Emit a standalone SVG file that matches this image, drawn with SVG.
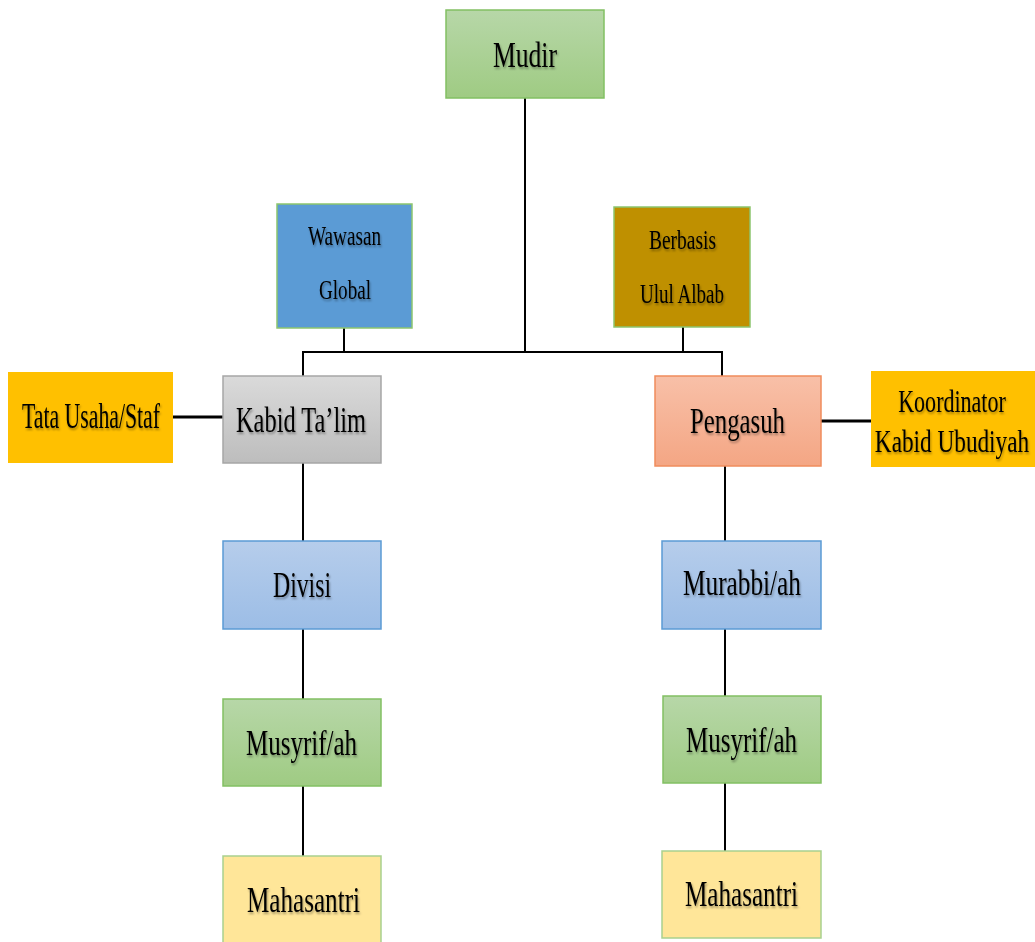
<svg xmlns="http://www.w3.org/2000/svg" width="1035" height="942" viewBox="0 0 1035 942">
<defs>
<linearGradient id="gGreen" x1="0" y1="0" x2="0" y2="1"><stop offset="0" stop-color="#b7d7a8"/><stop offset="1" stop-color="#9fcb83"/></linearGradient>
<linearGradient id="gGray" x1="0" y1="0" x2="0" y2="1"><stop offset="0" stop-color="#dadada"/><stop offset="1" stop-color="#bdbdbd"/></linearGradient>
<linearGradient id="gBlue" x1="0" y1="0" x2="0" y2="1"><stop offset="0" stop-color="#b6cdeb"/><stop offset="1" stop-color="#9cbde6"/></linearGradient>
<linearGradient id="gOrange" x1="0" y1="0" x2="0" y2="1"><stop offset="0" stop-color="#f8c0a8"/><stop offset="1" stop-color="#f4a684"/></linearGradient>
<filter id="sh" x="-3%" y="-10%" width="107%" height="130%"><feDropShadow dx="1" dy="2" stdDeviation="1.2" flood-color="#000" flood-opacity="0.35"/></filter>
</defs>
<style>
text{font-family:"Liberation Serif","Times New Roman",serif;fill:#000;text-anchor:middle;filter:url(#sh)}
.big{font-size:36px}
.mid{font-size:31px}
.sm{font-size:27px}
.ln{stroke:#000;stroke-width:2;fill:none}
.lnt{stroke:#000;stroke-width:3;fill:none}
</style>
<rect width="1035" height="942" fill="#fff"/>
<g id="connectors">
<line class="ln" x1="525" y1="98" x2="525" y2="352"/>
<line class="ln" x1="302" y1="352" x2="723" y2="352"/>
<line class="ln" x1="344" y1="328" x2="344" y2="352"/>
<line class="ln" x1="683" y1="327" x2="683" y2="352"/>
<line class="ln" x1="303" y1="351" x2="303" y2="376"/>
<line class="ln" x1="722" y1="351" x2="722" y2="376"/>
<line class="lnt" x1="173" y1="417" x2="223" y2="417"/>
<line class="lnt" x1="821" y1="421" x2="871" y2="421"/>
<line class="ln" x1="303" y1="463" x2="303" y2="541"/>
<line class="ln" x1="303" y1="629" x2="303" y2="699"/>
<line class="ln" x1="303" y1="786" x2="303" y2="856"/>
<line class="ln" x1="725" y1="466" x2="725" y2="541"/>
<line class="ln" x1="725" y1="629" x2="725" y2="696"/>
<line class="ln" x1="725" y1="783" x2="725" y2="851"/>
</g>
<g id="mudir"><rect x="446" y="10" width="158" height="88" fill="url(#gGreen)" stroke="#82c063" stroke-width="1.5"/><text class="big" x="525" y="67" textLength="64" lengthAdjust="spacingAndGlyphs">Mudir</text></g>
<g id="wawasan"><rect x="277" y="204" width="135" height="124" fill="#5b9bd5" stroke="#8cc56e" stroke-width="1.5"/><text class="sm" x="344.5" y="245" textLength="73" lengthAdjust="spacingAndGlyphs">Wawasan</text><text class="sm" x="345" y="299" textLength="52" lengthAdjust="spacingAndGlyphs">Global</text></g>
<g id="berbasis"><rect x="614" y="207" width="136" height="120" fill="#bf9000" stroke="#8cc56e" stroke-width="1.5"/><text class="sm" x="682.5" y="249" textLength="67" lengthAdjust="spacingAndGlyphs">Berbasis</text><text class="sm" x="682" y="303" textLength="84" lengthAdjust="spacingAndGlyphs">Ulul Albab</text></g>
<g id="tata"><rect x="8" y="372" width="165" height="91" fill="#ffc000"/><text class="big" x="91" y="428" textLength="138" lengthAdjust="spacingAndGlyphs">Tata Usaha/Staf</text></g>
<g id="kabid"><rect x="223" y="376" width="158" height="87" fill="url(#gGray)" stroke="#a6a6a6" stroke-width="1.5"/><text class="big" x="301" y="432" textLength="130" lengthAdjust="spacingAndGlyphs">Kabid Ta’lim</text></g>
<g id="pengasuh"><rect x="655" y="376" width="166" height="90" fill="url(#gOrange)" stroke="#f08c5c" stroke-width="1.5"/><text class="big" x="737.5" y="433" textLength="95" lengthAdjust="spacingAndGlyphs">Pengasuh</text></g>
<g id="koordinator"><rect x="871" y="371" width="164" height="96" fill="#ffc000"/><text class="mid" transform="translate(952 412) scale(0.71 1)" x="0" y="0">Koordinator</text><text class="mid" transform="translate(952 452) scale(0.75 1)" x="0" y="0">Kabid Ubudiyah</text></g>
<g id="divisi"><rect x="223" y="541" width="158" height="88" fill="url(#gBlue)" stroke="#5b9bd5" stroke-width="1.5"/><text class="big" x="302" y="597" textLength="58" lengthAdjust="spacingAndGlyphs">Divisi</text></g>
<g id="musyrif-l"><rect x="223" y="699" width="158" height="87" fill="url(#gGreen)" stroke="#82c063" stroke-width="1.5"/><text class="big" x="301.5" y="755" textLength="111" lengthAdjust="spacingAndGlyphs">Musyrif/ah</text></g>
<g id="mahasantri-l"><rect x="223" y="856" width="158" height="90" fill="#ffe699" stroke="#a9d18e" stroke-width="1.5"/><text class="big" x="303.5" y="912" textLength="113" lengthAdjust="spacingAndGlyphs">Mahasantri</text></g>
<g id="murabbi"><rect x="662" y="541" width="159" height="88" fill="url(#gBlue)" stroke="#5b9bd5" stroke-width="1.5"/><text class="big" x="742" y="595" textLength="118" lengthAdjust="spacingAndGlyphs">Murabbi/ah</text></g>
<g id="musyrif-r"><rect x="663" y="696" width="158" height="87" fill="url(#gGreen)" stroke="#82c063" stroke-width="1.5"/><text class="big" x="741.5" y="752" textLength="111" lengthAdjust="spacingAndGlyphs">Musyrif/ah</text></g>
<g id="mahasantri-r"><rect x="662" y="851" width="159" height="87" fill="#ffe699" stroke="#a9d18e" stroke-width="1.5"/><text class="big" x="741.5" y="906" textLength="113" lengthAdjust="spacingAndGlyphs">Mahasantri</text></g>
</svg>
